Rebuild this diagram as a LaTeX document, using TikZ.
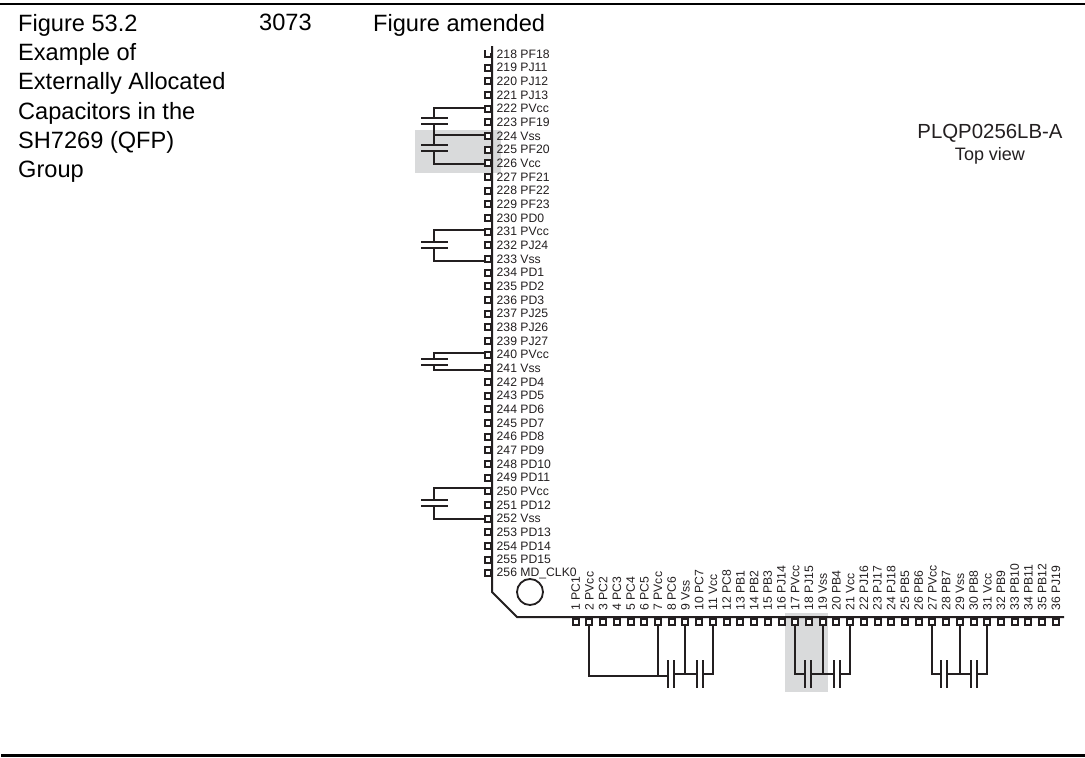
\documentclass[tikz,border=0pt]{standalone}
\usepackage{fontspec}
\setmainfont{Liberation Sans}
\usetikzlibrary{calc}
\definecolor{ink}{HTML}{231F20}
\definecolor{bandgrey}{HTML}{D9DADB}
\tikzset{
  x=1pt,y=-1pt,
  wire/.style={draw=ink,line width=2pt},
  body/.style={draw=ink,line width=2pt},
  plate/.style={draw=ink,line width=2pt},
  pinbox/.style={draw=ink,line width=2pt,fill=white,minimum size=5.2pt,inner sep=0pt,outer sep=0pt},
  pinboxb/.style={draw=ink,line width=2pt,fill=white,minimum size=6pt,inner sep=0pt,outer sep=0pt},
  pinlabel/.style={font=\fontsize{12.2}{12.2}\selectfont,text=ink,inner sep=0pt,anchor=west},
  rotlabel/.style={font=\fontsize{12.2}{12.2}\selectfont,text=ink,inner sep=0pt,anchor=west,rotate=90},
  headtext/.style={font=\fontsize{23.6}{29.3}\selectfont,text=black,inner sep=0pt,anchor=north west,align=left},
}
\begin{document}
\begin{tikzpicture}
\useasboundingbox (0,0) rectangle (1085,758);
\fill[white] (0,0) rectangle (1085,758);
\fill[bandgrey] (415,130) rectangle (501,173);
\fill[bandgrey] (785,613) rectangle (828,692);
\node[headtext] (fig) at (18,14) {Figure 53.2\\Example of\\Externally Allocated\\Capacitors in the\\SH7269 (QFP)\\Group};
\node[headtext] (num) at (259,14) {3073};
\node[headtext] (chg) at (373,14) {Figure amended};
\node[font=\fontsize{20.4}{20.4}\selectfont,text=ink,inner sep=0pt] (pkg) at (990,133) {PLQP0256LB-A};
\node[font=\fontsize{18}{18}\selectfont,text=ink,inner sep=0pt] (top) at (990,156) {Top view};
\coordinate (bodyT) at (492,46);
\coordinate (bodyA) at (492,592);
\coordinate (bodyB) at (517,617);
\coordinate (bodyE) at (1064,617);
\node[draw=ink,line width=1.8pt,circle,minimum size=26pt,inner sep=0pt] (mark) at (530,592) {};
% left pins
\foreach \n/\t [count=\i from 0] in {218/PF18,219/PJ11,220/PJ12,221/PJ13,222/PVcc,223/PF19,224/Vss,225/PF20,226/Vcc,227/PF21,228/PF22,229/PF23,230/PD0,231/PVcc,232/PJ24,233/Vss,234/PD1,235/PD2,236/PD3,237/PJ25,238/PJ26,239/PJ27,240/PVcc,241/Vss,242/PD4,243/PD5,244/PD6,245/PD7,246/PD8,247/PD9,248/PD10,249/PD11,250/PVcc,251/PD12,252/Vss,253/PD13,254/PD14,255/PD15,256/MD\_CLK0}{
  \pgfmathsetmacro\yy{54+13.67*\i}
  \pgfmathsetmacro\yr{round(\yy)}
  \node[pinbox] (p\n) at (488,\yr) {};
  \node[pinlabel] (l\n) at (496.5,\yy) {\n\ \t};
}
\draw[white,line width=2.2pt] ([xshift=1pt]p218.north west) -- ([xshift=3pt]p218.north east);
% bottom pins
\foreach \n/\t [count=\i from 0] in {1/PC1,2/PVcc,3/PC2,4/PC3,5/PC4,6/PC5,7/PVcc,8/PC6,9/Vss,10/PC7,11/Vcc,12/PC8,13/PB1,14/PB2,15/PB3,16/PJ14,17/PVcc,18/PJ15,19/Vss,20/PB4,21/Vcc,22/PJ16,23/PJ17,24/PJ18,25/PB5,26/PB6,27/PVcc,28/PB7,29/Vss,30/PB8,31/Vcc,32/PB9,33/PB10,34/PB11,35/PB12,36/PJ19}{
  \pgfmathsetmacro\xx{575.7+13.72*\i}
  \pgfmathsetmacro\xr{round(\xx)}
  \node[pinboxb] (b\n) at (\xr,622) {};
  \node[rotlabel] (t\n) at (\xx,610.7) {\n\ \t};
}
\draw[body] (bodyT) -- (bodyA) -- (bodyB) -- (bodyE);
% left capacitors
\foreach \nm/\yy/\d in {c1/121/3,c2/148/3,c3/245/3,c4/362/3,c5/503/3}{
  \coordinate (\nm) at (434,\yy);
  \draw[plate] ($(\nm)+(-13,-\d)$) -- ($(\nm)+(14,-\d)$);
  \draw[plate] ($(\nm)+(-13,\d)$) -- ($(\nm)+(14,\d)$);
}
\draw[wire] (p222.west |- 0,108) -- (434,108) -- ($(c1)+(0,-3)$);
\draw[wire] ($(c1)+(0,3)$) -- ($(c2)+(0,-3)$);
\draw[wire] (p224.west |- 0,135) -- (434,135);
\draw[wire] ($(c2)+(0,3)$) -- (434,164) -- (p226.west |- 0,164);
\draw[wire] (p231.west |- 0,230) -| ($(c3)+(0,-3)$);
\draw[wire] ($(c3)+(0,3)$) |- (p233.west |- 0,261);
\draw[wire] (p240.west |- 0,353) -| ($(c4)+(0,-3)$);
\draw[wire] ($(c4)+(0,3)$) |- (p241.west |- 0,370);
\draw[wire] (p250.west |- 0,488) -| ($(c5)+(0,-3)$);
\draw[wire] ($(c5)+(0,3)$) |- (p252.west |- 0,519);
% bottom capacitors
\foreach \nm/\xx in {d1/671,d2/700,d3/808,d4/837,d5/944,d6/974}{
  \coordinate (\nm) at (\xx,674);
  \draw[plate] ($(\nm)+(-3,-14)$) -- ($(\nm)+(-3,14)$);
  \draw[plate] ($(\nm)+(3,-14)$) -- ($(\nm)+(3,14)$);
}
\draw[wire] (b2.south) -- (b2.south |- 0,676) -- ($(d1)+(-3,2)$);
\draw[wire] (b7.south) -- (b7.south |- 0,676);
\draw[wire] ($(d1)+(3,0)$) -- ($(d2)+(-3,0)$);
\draw[wire] (b9.south) -- (b9.south |- 0,674);
\draw[wire] ($(d2)+(3,0)$) -| (b11.south);
\draw[wire] (b17.south) |- ($(d3)+(-3,0)$);
\draw[wire] ($(d3)+(3,0)$) -- ($(d4)+(-3,0)$);
\draw[wire] (b19.south) -- (b19.south |- 0,674);
\draw[wire] ($(d4)+(3,0)$) -| (b21.south);
\draw[wire] (b27.south) |- ($(d5)+(-3,0)$);
\draw[wire] ($(d5)+(3,0)$) -- ($(d6)+(-3,0)$);
\draw[wire] (b29.south) -- (b29.south |- 0,674);
\draw[wire] ($(d6)+(3,0)$) -| (b31.south);
% rules
\coordinate (r1) at (0,4);
\coordinate (r2) at (1085,4);
\coordinate (r3) at (1,755.5);
\coordinate (r4) at (1085,755.5);
\draw[black,line width=2.6pt] (r1) -- (r2);
\draw[black,line width=3.2pt] (r3) -- (r4);
\end{tikzpicture}
\end{document}
